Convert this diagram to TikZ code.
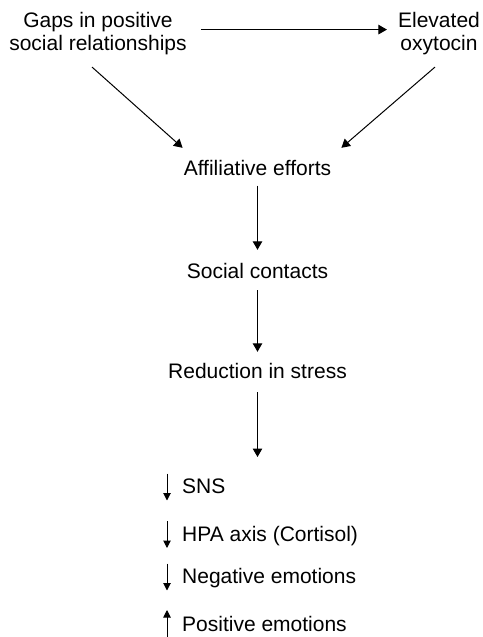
\documentclass[tikz,border=0pt]{standalone}
\usepackage{fontspec}
\setmainfont{Liberation Sans}
\usetikzlibrary{arrows.meta,calc}
\begin{document}
\begin{tikzpicture}[x=1pt,y=-1pt,
  lbl/.style={inner sep=0pt,font=\fontsize{21}{23}\selectfont,text height=15.5pt,text depth=4.5pt},
  lbl2/.style={inner sep=0pt,font=\fontsize{21}{23}\selectfont,align=center},
  arr/.style={line width=1pt,-{Triangle[length=8.5pt,width=9.5pt]}},
  sarr/.style={line width=1pt,-{Triangle[length=7.5pt,width=7.5pt]}}]
\useasboundingbox (0,0) rectangle (482,637);

% upper row (base = baseline of the second line)
\node[lbl2,anchor=base] (gaps) at (98,50) {Gaps in positive\\social relationships};
\node[lbl2,anchor=base] (oxy) at (439,50) {Elevated\\oxytocin};

% main chain
\node[lbl,anchor=base] (affil) at (257.5,175) {Affiliative efforts};
\node[lbl,anchor=base] (social) at (257.5,278) {Social contacts};
\node[lbl,anchor=base] (red) at (257.5,378) {Reduction in stress};
\coordinate (fx) at (257.5,457);

% outcomes
\node[lbl,anchor=base west] (sns) at (182,493.5) {SNS};
\node[lbl,anchor=base west] (hpa) at (182,541) {HPA axis (Cortisol)};
\node[lbl,anchor=base west] (neg) at (182,583.5) {Negative emotions};
\node[lbl,anchor=base west] (pos) at (182,631) {Positive emotions};

% connectors
\draw[arr] ($(gaps.north east)+(14,18)$) -- ($(oxy.north west)+(-11,18)$);
\draw[arr] ($(gaps.south)+(-6,12.5)$) -- ($(affil.north west)+(-1,-11.5)$);
\draw[arr] ($(oxy.south)+(-4,12.5)$) -- ($(affil.north east)+(10,-11.5)$);
\draw[arr] ([yshift=-6pt]affil.south) -- ([yshift=12.5pt]social.north);
\draw[arr] ([yshift=-7.5pt]social.south) -- ([yshift=10.5pt]red.north);
\draw[arr] ([yshift=-9.5pt]red.south) -- (red.south |- fx);

% direction markers
\draw[sarr] ([shift={(-15pt,20pt)}]sns.base west) -- ([shift={(-15pt,-7pt)}]sns.base west);
\draw[sarr] ([shift={(-15pt,20pt)}]hpa.base west) -- ([shift={(-15pt,-7pt)}]hpa.base west);
\draw[sarr] ([shift={(-15pt,20pt)}]neg.base west) -- ([shift={(-15pt,-7pt)}]neg.base west);
\draw[sarr] ([shift={(-15pt,-7pt)}]pos.base west) -- ([shift={(-15pt,21pt)}]pos.base west);
\end{tikzpicture}
\end{document}
